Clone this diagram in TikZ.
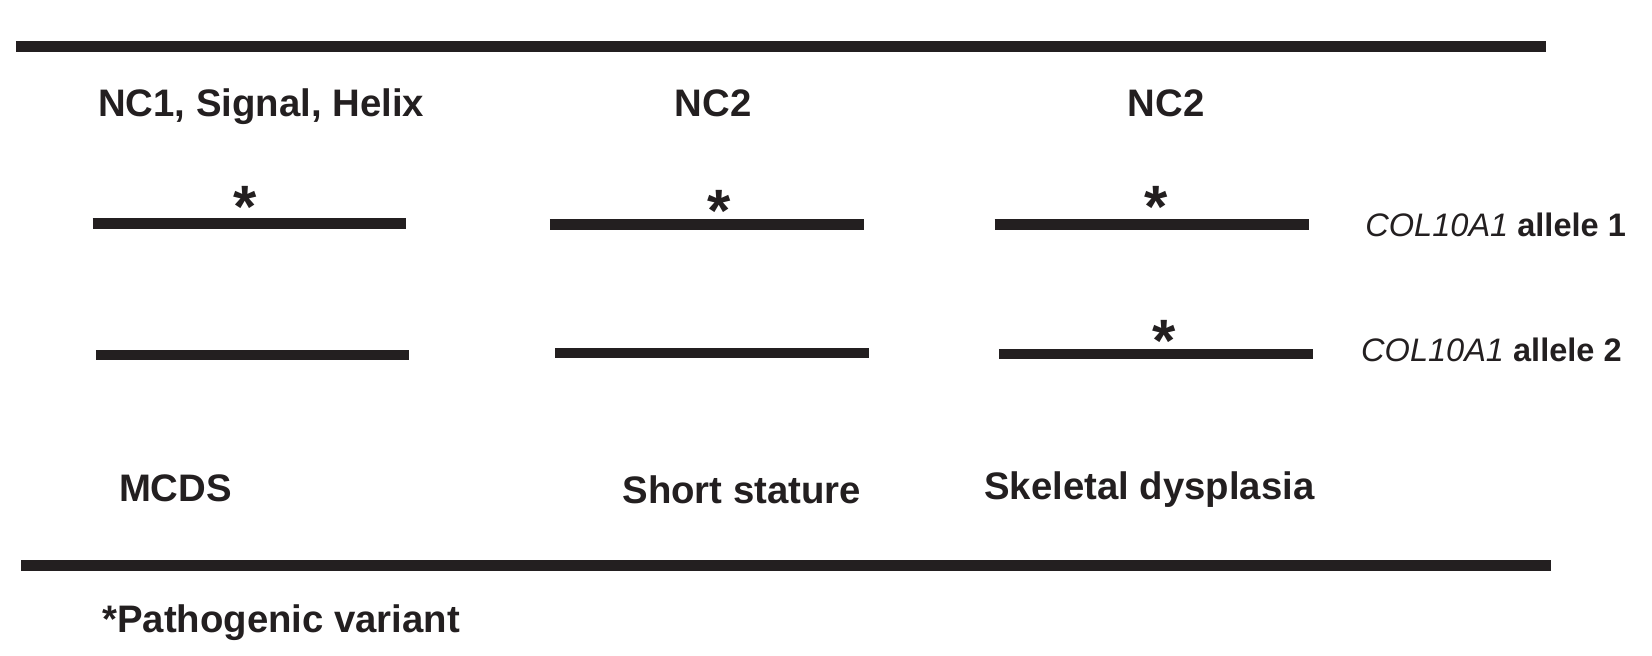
\documentclass[tikz,border=0pt]{standalone}
\usepackage{fontspec}
\setmainfont{Liberation Sans}
\definecolor{ink}{HTML}{231F20}
\begin{document}
\begin{tikzpicture}[x=0.010536cm,y=-0.010536cm,line width=3pt,color=ink,
  hd/.style={font=\fontsize{10.9}{13}\selectfont\bfseries,inner sep=0pt,anchor=base},
  rl/.style={font=\fontsize{9.25}{11}\selectfont,inner sep=0pt,anchor=base west},
  star/.style={font=\fontsize{17}{18}\selectfont\bfseries,inner sep=0pt,anchor=base}]
			\useasboundingbox (0,0) rectangle (1568,622.6);
			\draw (15,44)--(1467,44);
			\draw (20,537)--(1472,537);
			\node[hd] (h1) at (248,111) {NC1, Signal, Helix};
			\node[hd] (h2) at (677,111) {NC2};
			\node[hd] (h3) at (1107,111) {NC2};
			\draw (88,212)--(385,212);
			\draw (522,213)--(820,213);
			\draw (944,213)--(1242,213);
			\draw (91,337)--(388,337);
			\draw (527,335)--(825,335);
			\draw (948,336)--(1246,336);
			\node[star] (s1) at (233,216) {*};
			\node[star] (s2) at (683,220) {*};
			\node[star] (s3) at (1097,216) {*};
			\node[star] (s4) at (1105,343.5) {*};
			\node[rl] (a1) at (1291,224) {\textit{COL10A1} \textbf{allele 1}};
			\node[rl] (a2) at (1287,343) {\textit{COL10A1} \textbf{allele 2}};
			\node[hd,anchor=base west] (d1) at (108,476) {MCDS};
			\node[hd] (d2) at (704,478) {Short stature};
			\node[hd] (d3) at (1091,474) {Skeletal dysplasia};
			\node[hd,anchor=base west] (fn) at (92,600) {*Pathogenic variant};
		\end{tikzpicture}
\end{document}
